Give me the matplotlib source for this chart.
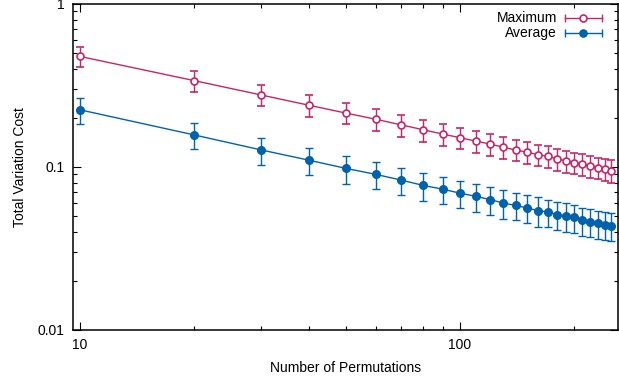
import matplotlib
matplotlib.use("Agg")
import matplotlib.pyplot as plt
from matplotlib.ticker import LogLocator, NullFormatter, FixedLocator, FixedFormatter

plt.rcParams['font.family'] = ['Liberation Sans', 'DejaVu Sans']
plt.rcParams['font.size'] = 10

# values
perms = [10, 20, 30, 40, 50, 60, 70, 80, 90, 100, 110, 120, 130,
         140, 150, 160, 170, 180, 190, 200, 210, 220, 230, 240, 250]
maximum = [0.476, 0.338, 0.276, 0.239, 0.214, 0.196, 0.181, 0.169, 0.159, 0.151,
           0.144, 0.138, 0.132, 0.127, 0.123, 0.119, 0.116, 0.112, 0.109, 0.106,
           0.104, 0.101, 0.099, 0.097, 0.095]
maximum_err = [0.068, 0.050, 0.041, 0.036, 0.032, 0.030, 0.028, 0.026, 0.024, 0.023,
               0.022, 0.021, 0.020, 0.019, 0.019, 0.018, 0.018, 0.017, 0.017, 0.016,
               0.016, 0.016, 0.015, 0.015, 0.015]
average = [0.224, 0.157, 0.127, 0.110, 0.098, 0.090, 0.083, 0.077, 0.073, 0.069,
           0.066, 0.063, 0.060, 0.058, 0.056, 0.054, 0.053, 0.051, 0.050, 0.049,
           0.047, 0.046, 0.045, 0.044, 0.0435]
average_err = [0.040, 0.029, 0.024, 0.021, 0.019, 0.017, 0.016, 0.015, 0.014, 0.013,
               0.013, 0.012, 0.012, 0.011, 0.011, 0.011, 0.010, 0.010, 0.010, 0.0095,
               0.0092, 0.009, 0.0088, 0.0086, 0.0084]

pink = '#c8246a'
blue = '#0062ad'

fig = plt.figure(figsize=(6.19, 3.81), dpi=100)
ax = fig.add_axes([0.118, 0.134, 0.88, 0.856])

ax.errorbar(perms, maximum, yerr=maximum_err, color=pink, lw=1, marker='o',
            ms=5, mfc='white', mec=pink, mew=1.2, capsize=3, elinewidth=1,
            ecolor=pink, capthick=1)
ax.errorbar(perms, average, yerr=average_err, color=blue, lw=1, marker='o',
            ms=5.5, mfc=blue, mec=blue, capsize=3, elinewidth=1,
            ecolor=blue, capthick=1)

ax.set_xscale('log')
ax.set_yscale('log')
ax.set_xlim(9.6, 260)
ax.set_ylim(0.01, 1)

ax.xaxis.set_major_locator(FixedLocator([10, 100]))
ax.xaxis.set_major_formatter(FixedFormatter(['10', '100']))
ax.xaxis.set_minor_locator(LogLocator(base=10, subs=range(2, 10)))
ax.xaxis.set_minor_formatter(NullFormatter())
ax.yaxis.set_major_locator(FixedLocator([0.01, 0.1, 1]))
ax.yaxis.set_major_formatter(FixedFormatter(['0.01', '0.1', '1']))
ax.yaxis.set_minor_locator(LogLocator(base=10, subs=range(2, 10)))
ax.yaxis.set_minor_formatter(NullFormatter())

ax.tick_params(which='both', direction='in', top=True, right=True, width=0.8)
ax.tick_params(which='major', length=6, pad=6)
ax.tick_params(which='minor', length=3)
for s in ax.spines.values():
    s.set_linewidth(1.1)

ax.set_xlabel('Number of Permutations', labelpad=6)
ax.set_ylabel('Total Variation Cost', labelpad=8)

# gnuplot-style key
for yk, label, col, face in [(0.955, 'Maximum', pink, 'white'), (0.91, 'Average', blue, blue)]:
    ax.text(0.888, yk, label, transform=ax.transAxes, ha='right', va='center')
    ax.plot([0.903, 0.971], [yk, yk], transform=ax.transAxes, color=col, lw=1)
    ax.plot([0.903, 0.971], [yk, yk], transform=ax.transAxes, color=col, lw=0,
            marker='|', ms=6, mew=1)
    ax.plot([0.937], [yk], transform=ax.transAxes, color=col, marker='o',
            ms=5, mfc=face, mec=col, mew=1.2)

fig.savefig('out.png', dpi=100)
